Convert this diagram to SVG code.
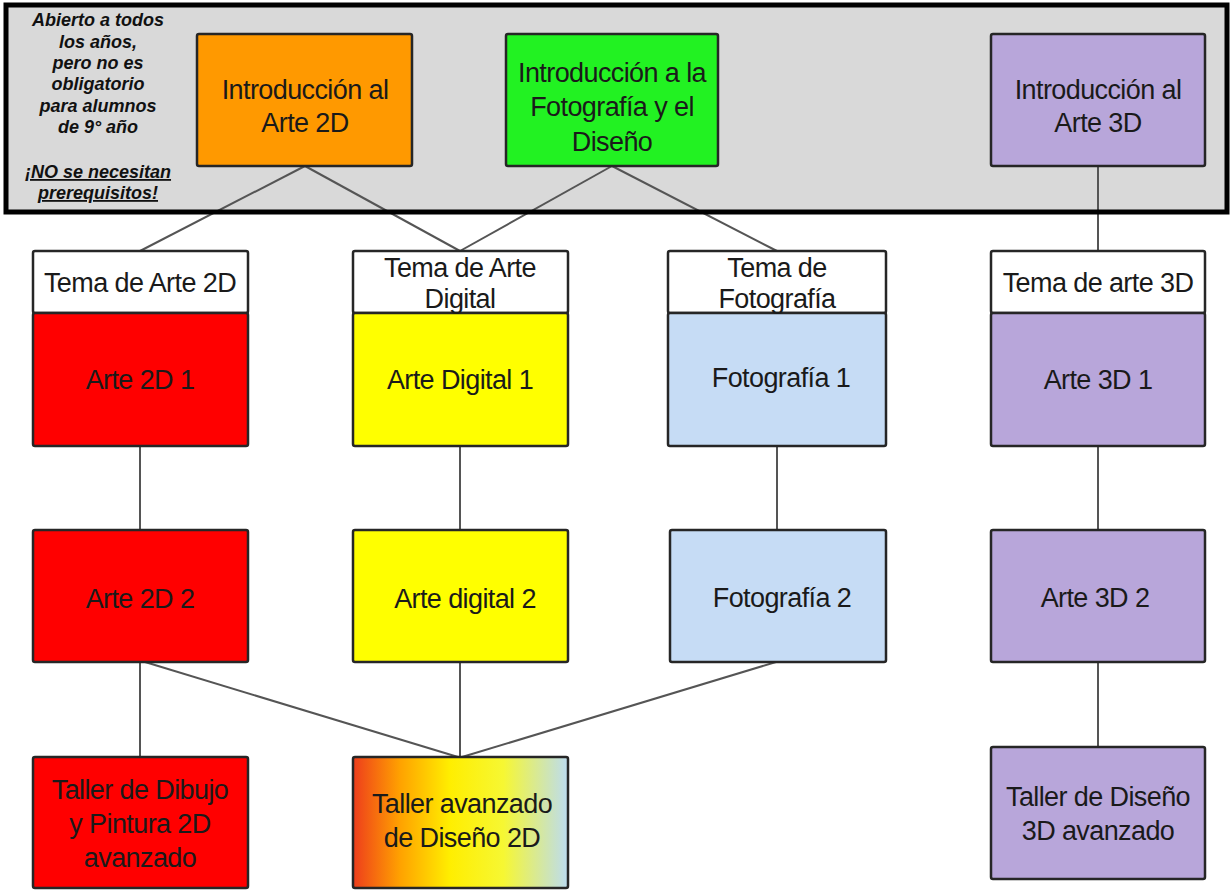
<svg xmlns="http://www.w3.org/2000/svg" width="1230" height="890" viewBox="0 0 1230 890">
<style>
.box{stroke:#262626;stroke-width:2.5}
.t{font-family:"Liberation Sans",Arial,sans-serif;font-size:27px;letter-spacing:-0.6px;fill:#1a1a1a;text-anchor:middle}
.note{font-family:"Liberation Sans",Arial,sans-serif;font-size:18px;font-style:italic;font-weight:bold;fill:#111;text-anchor:middle}
.ln{stroke:#555;stroke-width:2;fill:none}
</style>
<defs>
<linearGradient id="grad" x1="0" y1="0" x2="1" y2="0">
<stop offset="0" stop-color="#ee3d1c"/>
<stop offset="0.22" stop-color="#ffa200"/>
<stop offset="0.45" stop-color="#ffee00"/>
<stop offset="0.7" stop-color="#f6f733"/>
<stop offset="1" stop-color="#bcdcf0"/>
</linearGradient>
</defs>
<rect width="1230" height="890" fill="#ffffff"/>
<g id="banner-bg"><rect x="6" y="5" width="1221" height="207" fill="#d9d9d9"/></g>
<g id="connectors">
<line class="ln" x1="305" y1="166" x2="140" y2="251"/>
<line class="ln" x1="305" y1="166" x2="460" y2="251"/>
<line class="ln" x1="612" y1="166" x2="460" y2="251"/>
<line class="ln" x1="612" y1="166" x2="777" y2="251"/>
<line class="ln" x1="1098" y1="166" x2="1098" y2="251"/>
<line class="ln" x1="140" y1="446" x2="140" y2="530"/>
<line class="ln" x1="460" y1="446" x2="460" y2="530"/>
<line class="ln" x1="777" y1="446" x2="777" y2="530"/>
<line class="ln" x1="1098" y1="446" x2="1098" y2="530"/>
<line class="ln" x1="140" y1="662" x2="140" y2="757"/>
<line class="ln" x1="145" y1="662" x2="458" y2="757"/>
<line class="ln" x1="460" y1="662" x2="460" y2="757"/>
<line class="ln" x1="776" y1="662" x2="462" y2="757"/>
<line class="ln" x1="1098" y1="662" x2="1098" y2="747"/>
</g>
<g id="banner">
<rect x="6" y="5" width="1221" height="207" fill="none" stroke="#000" stroke-width="5"/>
<text class="note" x="98"><tspan x="98" y="26">Abierto a todos</tspan><tspan x="98" y="48">los años,</tspan><tspan x="98" y="69">pero no es</tspan><tspan x="98" y="90">obligatorio</tspan><tspan x="98" y="112">para alumnos</tspan><tspan x="98" y="133">de 9° año</tspan><tspan x="98" y="178" text-decoration="underline">¡NO se necesitan</tspan><tspan x="98" y="199" text-decoration="underline">prerequisitos!</tspan></text>
</g>
<g id="intro-2d"><rect class="box" x="197" y="34" width="215" height="132" rx="2" fill="#ff9900"/><text class="t"><tspan x="305" y="99">Introducción al</tspan><tspan x="305" y="132">Arte 2D</tspan></text></g>
<g id="intro-foto"><rect class="box" x="506" y="34" width="212" height="132" rx="2" fill="#22f222"/><text class="t"><tspan x="612" y="82">Introducción a la</tspan><tspan x="612" y="116">Fotografía y el</tspan><tspan x="612" y="151">Diseño</tspan></text></g>
<g id="intro-3d"><rect class="box" x="991" y="34" width="214" height="132" rx="2" fill="#b8a6da"/><text class="t"><tspan x="1098" y="99">Introducción al</tspan><tspan x="1098" y="132">Arte 3D</tspan></text></g>
<g id="arte-2d-1"><rect class="box" x="33" y="251" width="215" height="62" rx="2" fill="#ffffff"/><rect class="box" x="33" y="313" width="215" height="133" rx="2" fill="#ff0000"/><text class="t" x="140" y="292">Tema de Arte 2D</text><text class="t" x="140" y="389">Arte 2D 1</text></g>
<g id="arte-digital-1"><rect class="box" x="353" y="251" width="215" height="62" rx="2" fill="#ffffff"/><rect class="box" x="353" y="313" width="215" height="133" rx="2" fill="#ffff00"/><text class="t"><tspan x="460" y="277">Tema de Arte</tspan><tspan x="460" y="308">Digital</tspan></text><text class="t" x="460" y="389">Arte Digital 1</text></g>
<g id="fotografia-1"><rect class="box" x="668" y="251" width="218" height="62" rx="2" fill="#ffffff"/><rect class="box" x="668" y="313" width="218" height="133" rx="2" fill="#c6dcf5"/><text class="t"><tspan x="777" y="277">Tema de</tspan><tspan x="777" y="308">Fotografía</tspan></text><text class="t" x="781" y="387">Fotografía 1</text></g>
<g id="arte-3d-1"><rect class="box" x="991" y="251" width="214" height="62" rx="2" fill="#ffffff"/><rect class="box" x="991" y="313" width="214" height="133" rx="2" fill="#b8a6da"/><text class="t" x="1098" y="292">Tema de arte 3D</text><text class="t" x="1098" y="389">Arte 3D 1</text></g>
<g id="arte-2d-2"><rect class="box" x="33" y="530" width="215" height="132" rx="2" fill="#ff0000"/><text class="t" x="140" y="608">Arte 2D 2</text></g>
<g id="arte-digital-2"><rect class="box" x="353" y="530" width="215" height="132" rx="2" fill="#ffff00"/><text class="t" x="465" y="608">Arte digital 2</text></g>
<g id="fotografia-2"><rect class="box" x="670" y="530" width="216" height="132" rx="2" fill="#c6dcf5"/><text class="t" x="782" y="607">Fotografía 2</text></g>
<g id="arte-3d-2"><rect class="box" x="991" y="530" width="214" height="132" rx="2" fill="#b8a6da"/><text class="t" x="1095" y="607">Arte 3D 2</text></g>
<g id="taller-dibujo"><rect class="box" x="33" y="757" width="215" height="131" rx="2" fill="#ff0000"/><text class="t"><tspan x="140" y="799">Taller de Dibujo</tspan><tspan x="140" y="833">y Pintura 2D</tspan><tspan x="140" y="867">avanzado</tspan></text></g>
<g id="taller-diseno-2d"><rect class="box" x="353" y="757" width="215" height="131" rx="2" fill="url(#grad)"/><text class="t"><tspan x="462" y="813">Taller avanzado</tspan><tspan x="462" y="847">de Diseño 2D</tspan></text></g>
<g id="taller-diseno-3d"><rect class="box" x="991" y="747" width="214" height="132" rx="2" fill="#b8a6da"/><text class="t"><tspan x="1098" y="806">Taller de Diseño</tspan><tspan x="1098" y="840">3D avanzado</tspan></text></g>
</svg>
